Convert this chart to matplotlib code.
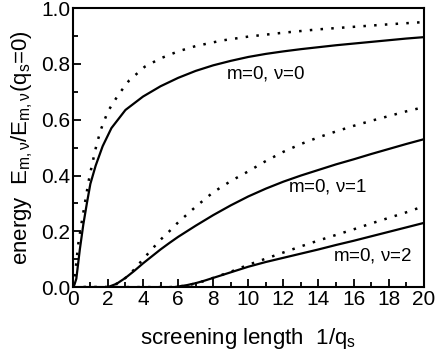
import numpy as np
import matplotlib
matplotlib.use("Agg")
import matplotlib.pyplot as plt
from matplotlib.ticker import MultipleLocator

plt.rcParams['font.family'] = ['Liberation Sans', 'DejaVu Sans']
plt.rcParams['mathtext.fontset'] = 'custom'
plt.rcParams['mathtext.rm'] = 'Liberation Sans'
plt.rcParams['mathtext.it'] = 'Liberation Sans'

# m=0, nu=0
sol0_x = [0, 0.1, 0.2, 0.4, 0.6, 0.8, 1.0, 1.3, 1.7, 2.2, 3, 4, 5, 6, 7, 8, 9, 10, 11, 12, 13, 15, 17, 19, 20]
sol0_y = [0, 0.01, 0.03, 0.135, 0.225, 0.30, 0.37, 0.435, 0.505, 0.57, 0.635, 0.683, 0.72, 0.75, 0.775, 0.795, 0.811, 0.825, 0.836, 0.845, 0.853, 0.867, 0.879, 0.891, 0.896]
dot0_x = [0, 0.15, 0.3, 0.5, 0.7, 0.9, 1.1, 1.35, 1.6, 2.0, 2.6, 3.2, 4.1, 5, 6, 7, 8.5, 10, 12, 14, 16, 18, 20]
dot0_y = [0, 0.057, 0.15, 0.23, 0.305, 0.38, 0.44, 0.51, 0.565, 0.63, 0.69, 0.74, 0.79, 0.82, 0.845, 0.864, 0.884, 0.898, 0.912, 0.924, 0.933, 0.942, 0.95]
# m=0, nu=1
sol1_x = [0, 2.0, 2.5, 3.0, 3.5, 4, 4.5, 5, 5.5, 6, 7, 8, 9, 10, 11, 12, 13, 14, 15, 16, 17, 18, 19, 20]
sol1_y = [0, 0, 0.012, 0.033, 0.058, 0.085, 0.11, 0.135, 0.158, 0.18, 0.22, 0.258, 0.293, 0.325, 0.353, 0.378, 0.40, 0.42, 0.44, 0.458, 0.477, 0.495, 0.513, 0.53]
dot1_x = [0, 2.0, 2.5, 3.0, 3.5, 4, 4.5, 5, 5.5, 6, 7, 8, 9, 10, 11, 12, 13, 14, 15, 16, 17, 18, 19, 20]
dot1_y = [0, 0, 0.012, 0.033, 0.063, 0.10, 0.135, 0.17, 0.20, 0.232, 0.288, 0.34, 0.38, 0.415, 0.452, 0.485, 0.513, 0.537, 0.558, 0.578, 0.596, 0.613, 0.63, 0.645]
# m=0, nu=2
sol2_x = [0, 5.8, 6, 6.5, 7, 7.5, 8, 9, 10, 11, 12, 13, 14, 15, 16, 17, 18, 19, 20]
sol2_y = [0, 0, 0.002, 0.007, 0.014, 0.023, 0.033, 0.053, 0.073, 0.09, 0.105, 0.12, 0.135, 0.151, 0.166, 0.182, 0.198, 0.214, 0.23]
dot2_x = [0, 5.6, 6, 6.5, 7, 7.5, 8, 9, 10, 11, 12, 13, 14, 15, 16, 17, 18, 19, 20]
dot2_y = [0, 0, 0.002, 0.006, 0.013, 0.022, 0.033, 0.055, 0.08, 0.102, 0.124, 0.146, 0.167, 0.187, 0.207, 0.228, 0.248, 0.268, 0.29]

labels = [r'm=0, $\mathrm{ν}$=0', r'm=0, $\mathrm{ν}$=1', r'm=0, $\mathrm{ν}$=2']
label_pos = [(11.0, 0.767), (14.5, 0.362), (17.1, 0.115)]

fig = plt.figure(figsize=(4.36, 3.54), dpi=100)
ax = fig.add_axes([0.167, 0.189, 0.805, 0.788])

for (x, y) in [(sol0_x, sol0_y), (sol1_x, sol1_y), (sol2_x, sol2_y)]:
    ax.plot(x, y, color='k', lw=1.6, solid_joinstyle='round')
for (x, y) in [(dot0_x, dot0_y), (dot1_x, dot1_y), (dot2_x, dot2_y)]:
    ax.plot(x, y, color='k', lw=1.8, linestyle=(0, (1, 3.3)))

for (t, (px, py)) in zip(labels, label_pos):
    ax.text(px, py, t, fontsize=13.5, ha='center', va='center')

ax.set_xlim(0, 20)
ax.set_ylim(0, 1.0)
ax.xaxis.set_major_locator(MultipleLocator(2))
ax.xaxis.set_minor_locator(MultipleLocator(1))
ax.yaxis.set_major_locator(MultipleLocator(0.2))
ax.yaxis.set_minor_locator(MultipleLocator(0.1))
ax.yaxis.set_major_formatter(matplotlib.ticker.FormatStrFormatter('%.1f'))
ax.tick_params(which='both', direction='in', top=False, right=False, labelsize=15, width=1.3)
ax.tick_params(which='major', length=6, pad=2)
ax.tick_params(which='minor', length=3.5)
for s in ax.spines.values():
    s.set_linewidth(1.5)

ax.set_xlabel(r'screening length  1/q$_\mathrm{s}$', fontsize=16, labelpad=12)
ax.set_ylabel(r'energy  E$_{\mathrm{m,ν}}$/E$_{\mathrm{m,ν}}$(q$_\mathrm{s}$=0)', fontsize=16, labelpad=4)

fig.savefig("out.png", dpi=100)
